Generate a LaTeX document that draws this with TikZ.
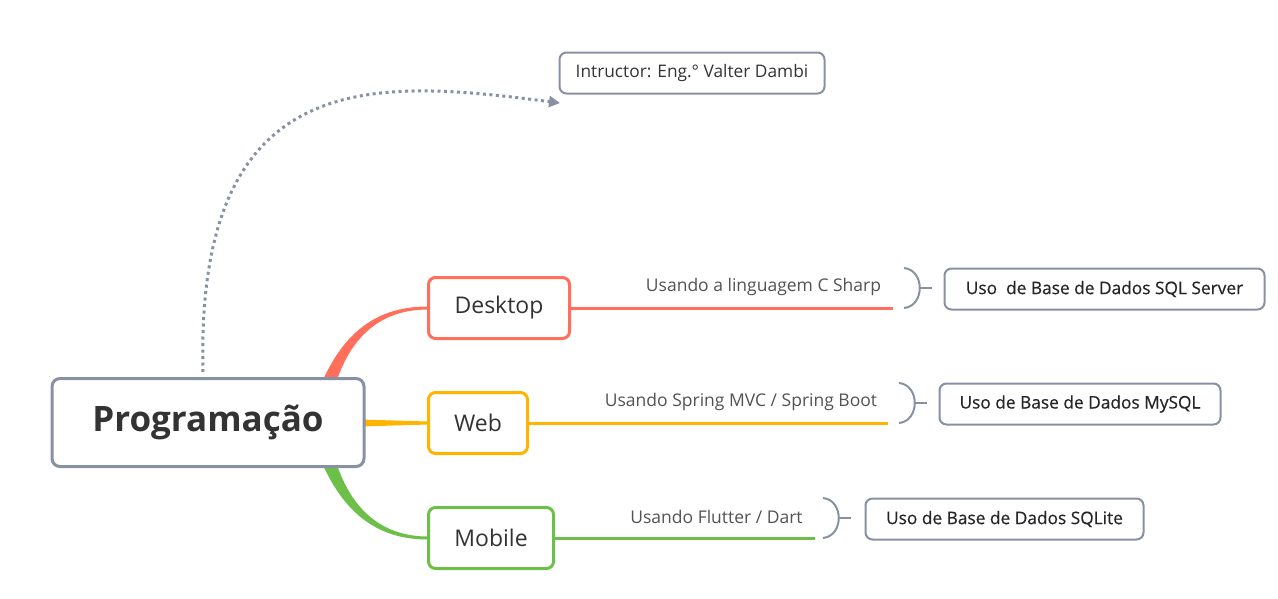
\documentclass[tikz,border=0pt]{standalone}
\usepackage{fontspec}
\setmainfont{Open Sans}
\newfontfamily\semib{Open Sans}[FakeBold=0.5]
\usetikzlibrary{arrows.meta}
\definecolor{gr}{HTML}{8891A3}
\definecolor{rd}{HTML}{FF6F5C}
\definecolor{yl}{HTML}{FFB400}
\definecolor{gn}{HTML}{6CC04A}
\definecolor{tx}{HTML}{333333}
\begin{document}
\begin{tikzpicture}[x=1pt,y=-1pt,
  every node/.style={text=tx, inner sep=0pt},
  mainbox/.style={draw=gr, line width=3pt, rounded corners=8pt, fill=white, minimum width=312pt, minimum height=88pt, font=\fontsize{35}{40}\selectfont\bfseries},
  branch/.style={draw=#1, line width=3pt, rounded corners=7pt, fill=white, minimum height=61pt, font=\fontsize{23}{26}\selectfont},
  leaf/.style={draw=gr, line width=2pt, rounded corners=7pt, fill=white, minimum height=41pt, font=\semib\fontsize{17.3}{20}\selectfont, text=black!85},
  lbl/.style={font=\fontsize{17.5}{20}\selectfont, text=tx!85},
  brk/.style={draw=gr, line width=2pt}
]
\useasboundingbox (0,0) rectangle (1278,598);

% connectors from main
\fill[rd] (323,380) .. controls (350,320) and (390,306.5) .. (428,306.5) -- (428,309.5) .. controls (392,309.5) and (356,325) .. (337,380) -- cycle;
\fill[gn] (323,465) .. controls (350,525) and (390,539.5) .. (428,539.5) -- (428,536.5) .. controls (392,536.5) and (356,520) .. (337,465) -- cycle;
\fill[yl] (360,419.5) -- (428,421.5) -- (428,424.5) -- (360,426.5) -- cycle;

\node[mainbox] (main) at (208,422.5) {Programação};
\node[branch=rd, minimum width=141pt] (desk) at (499,308) {Desktop};
\node[branch=yl, minimum width=99pt] (web) at (478,423) {Web};
\node[branch=gn, minimum width=125pt] (mob) at (491,538) {Mobile};

\node[leaf, minimum width=265pt, font=\fontsize{17.3}{20}\selectfont, text=tx] (instr) at (692,73) {Intructor: Eng.° Valter Dambi};
\node[leaf, minimum width=320pt] (sql) at (1104.5,289) {Uso\ \ de Base de Dados SQL Server};
\node[leaf, minimum width=281pt] (mysql) at (1080,404) {Uso de Base de Dados MySQL};
\node[leaf, minimum width=278pt] (sqlite) at (1004.5,519) {Uso de Base de Dados SQLite};

% dotted arrow
\draw[gr, line width=3pt, dash pattern=on 3pt off 3.5pt, -{Triangle[length=11pt,width=11pt]}]
  (203,372) .. controls (195,60) and (380,80) .. (560,103);

% branch lines
\coordinate (d1) at (893,308);
\coordinate (w1) at (888,423);
\coordinate (m1) at (815,538);
\draw[rd, line width=3pt] (desk.east) -- (d1);
\draw[yl, line width=3pt] (web.east) -- (w1);
\draw[gn, line width=3pt] (mob.east) -- (m1);
\node[lbl] (ld) at (763.5,287) {Usando a linguagem C Sharp};
\node[lbl] (lw) at (741,402) {Usando Spring MVC / Spring Boot};
\node[lbl] (lm) at (716.5,517) {Usando Flutter / Dart};

% brackets
\coordinate (bd) at (919,288);
\coordinate (bd2) at (932,288);
\coordinate (bw) at (914,403);
\coordinate (bw2) at (927,403);
\coordinate (bm) at (838,518);
\coordinate (bm2) at (851,518);
\draw[brk] (904,268) .. controls (925,270) and (925,306) .. (904,308);
\draw[brk] (bd) -- (bd2);
\draw[brk] (899,383) .. controls (920,385) and (920,421) .. (899,423);
\draw[brk] (bw) -- (bw2);
\draw[brk] (823,498) .. controls (844,500) and (844,536) .. (823,538);
\draw[brk] (bm) -- (bm2);
\end{tikzpicture}
\end{document}
